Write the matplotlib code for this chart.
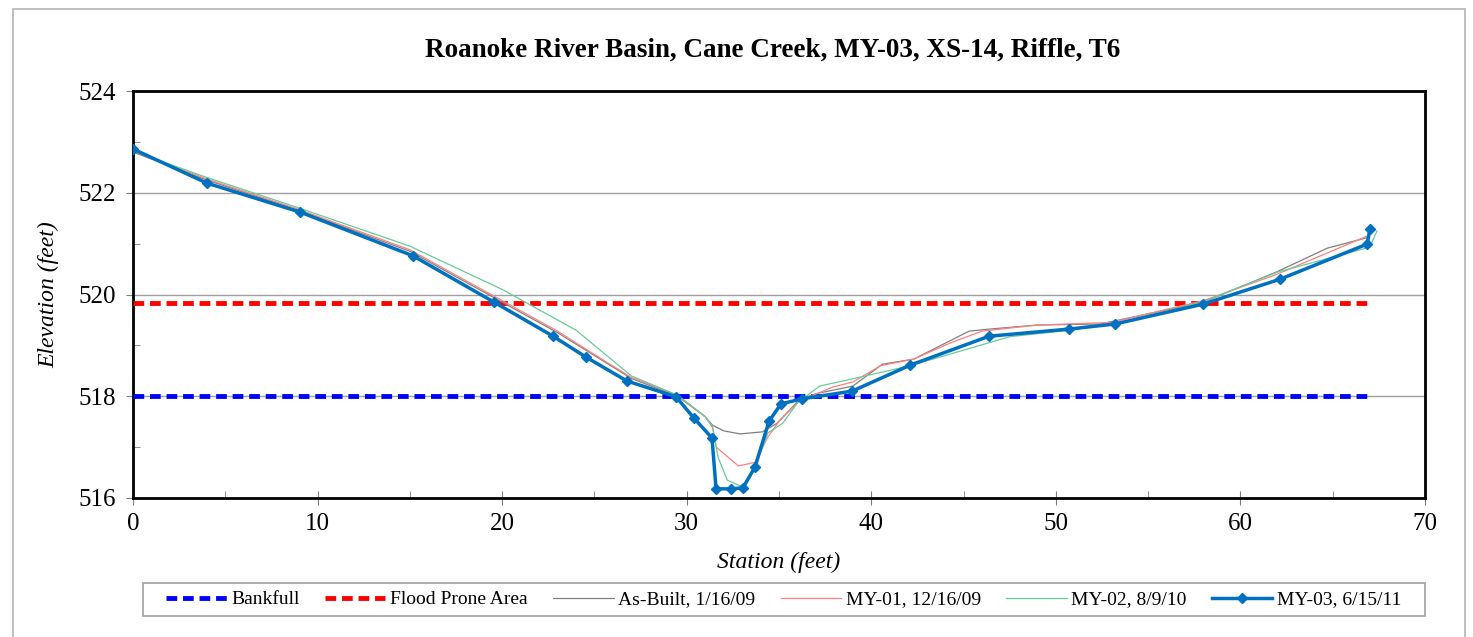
import matplotlib.pyplot as plt
from matplotlib.ticker import MultipleLocator
from matplotlib.patches import Rectangle

plt.rcParams['font.family'] = ['Liberation Serif', 'DejaVu Serif']

# bankfull / flood prone elevations
bankfull = 518.0
flood_prone = 519.83
level_x = [0, 67]

asbuilt_x = [0, 4, 9, 15, 19.5, 23, 25, 27, 29.5, 31, 31.4, 32, 32.9, 34.1, 34.9, 36.1, 37, 39, 40.6, 42.3, 45.3, 46.4, 49, 52.4, 58, 62, 64.7, 67]
asbuilt_y = [522.8, 522.25, 521.65, 520.85, 519.95, 519.25, 518.8, 518.35, 518.0, 517.6, 517.43, 517.32, 517.26, 517.3, 517.47, 517.93, 518.05, 518.2, 518.63, 518.73, 519.28, 519.32, 519.4, 519.42, 519.85, 520.45, 520.91, 521.13]

my01_x = [0, 4, 9, 15, 19.5, 23, 25, 27, 29.5, 31, 31.4, 31.6, 32.8, 33.7, 34.4, 35.05, 36.1, 37.9, 39, 40.5, 42.3, 44.3, 46, 49, 53, 58, 62, 67]
my01_y = [522.82, 522.27, 521.67, 520.88, 519.98, 519.28, 518.82, 518.37, 518.02, 517.6, 517.39, 517.0, 516.63, 516.7, 517.2, 517.53, 517.9, 518.18, 518.28, 518.6, 518.73, 519.05, 519.28, 519.4, 519.45, 519.88, 520.4, 521.17]

my02_x = [0, 4, 9, 15, 20, 24, 27, 29.5, 31, 31.4, 31.7, 32.2, 33, 33.7, 34.4, 35.2, 36, 37.2, 39.2, 42.1, 47.5, 50.8, 53.5, 58, 62, 67, 67.4]
my02_y = [522.82, 522.3, 521.7, 520.95, 520.1, 519.3, 518.4, 518.02, 517.6, 517.4, 516.8, 516.35, 516.22, 516.6, 517.28, 517.47, 517.87, 518.2, 518.36, 518.6, 519.17, 519.3, 519.45, 519.86, 520.44, 520.93, 521.25]

my03_x = [0, 4.0, 9.05, 15.17, 19.56, 22.76, 24.54, 26.76, 29.42, 30.39, 31.37, 31.59, 32.4, 33.05, 33.7, 34.46, 35.11, 36.25, 38.96, 42.1, 46.38, 50.71, 53.2, 57.97, 62.14, 66.86, 67.02]
my03_y = [522.86, 522.19, 521.62, 520.76, 519.85, 519.18, 518.77, 518.3, 517.99, 517.57, 517.18, 516.18, 516.18, 516.2, 516.61, 517.51, 517.85, 517.95, 518.1, 518.61, 519.18, 519.32, 519.42, 519.81, 520.3, 520.99, 521.29]

W, H = 1473, 637
fig = plt.figure(figsize=(W / 100, H / 100), dpi=100)
ax = fig.add_axes([133 / W, 1 - 498 / H, (1425 - 133) / W, (498 - 91) / H])

# outer chart-area border
fig.patches.append(Rectangle((13 / W, -0.05), (1465 - 13) / W, 1.05 - 9 / H,
                             transform=fig.transFigure, fill=False, edgecolor='#b4b4b4', lw=1.2))

ax.plot(level_x, [bankfull, bankfull], color='#0000ff', ls=(0, (2.2, 1.2)), lw=3.5, label='Bankfull', zorder=3)
ax.plot(level_x, [flood_prone, flood_prone], color='#ff0000', ls=(0, (2.2, 1.2)), lw=3.5, label='Flood Prone Area', zorder=3)
ax.plot(asbuilt_x, asbuilt_y, color='#808080', lw=0.9, label='As-Built, 1/16/09', zorder=4)
ax.plot(my01_x, my01_y, color='#ff8080', lw=0.9, label='MY-01, 12/16/09', zorder=4)
ax.plot(my02_x, my02_y, color='#66cc99', lw=0.9, label='MY-02, 8/9/10', zorder=4)
ax.plot(my03_x, my03_y, color='#0070c0', lw=2.5, marker='D', ms=5, label='MY-03, 6/15/11', zorder=5)

ax.set_xlim(0, 70)
ax.set_ylim(516, 524)
ax.xaxis.set_major_locator(MultipleLocator(10))
ax.xaxis.set_minor_locator(MultipleLocator(5))
ax.yaxis.set_major_locator(MultipleLocator(2))
ax.yaxis.set_minor_locator(MultipleLocator(1))
ax.grid(axis='y', which='major', color='#a0a0a0', lw=1)
ax.set_axisbelow(True)
ax.tick_params(axis='x', which='major', direction='inout', length=10, pad=6, labelsize=18, color='#808080')
ax.tick_params(axis='x', which='minor', direction='in', length=5, color='#808080')
ax.tick_params(axis='y', which='major', direction='out', length=5, pad=7, labelsize=18, color='#808080')
ax.tick_params(axis='y', which='minor', direction='in', length=5, color='#808080')
for s in ax.spines.values():
    s.set_linewidth(2)

fig.text(773 / W, 1 - 50 / H, 'Roanoke River Basin, Cane Creek, MY-03, XS-14, Riffle, T6',
         fontsize=19.5, fontweight='bold', ha='center', va='center')
ax.set_xlabel('Station (feet)', fontsize=17, style='italic', labelpad=12)
ax.set_ylabel('Elevation (feet)', fontsize=17, style='italic', labelpad=14)

leg = fig.legend(loc='center', bbox_to_anchor=(784 / W, 1 - 599.5 / H), ncol=6, fontsize=14,
                 frameon=False, handlelength=3.1, handletextpad=0.25, columnspacing=1.3)
fig.patches.append(Rectangle((143 / W, 1 - 616 / H), (1425 - 143) / W, 33 / H,
                             transform=fig.transFigure, fill=False, edgecolor='#a0a0a0', lw=1.2))

fig.savefig('out.png', dpi=100)
